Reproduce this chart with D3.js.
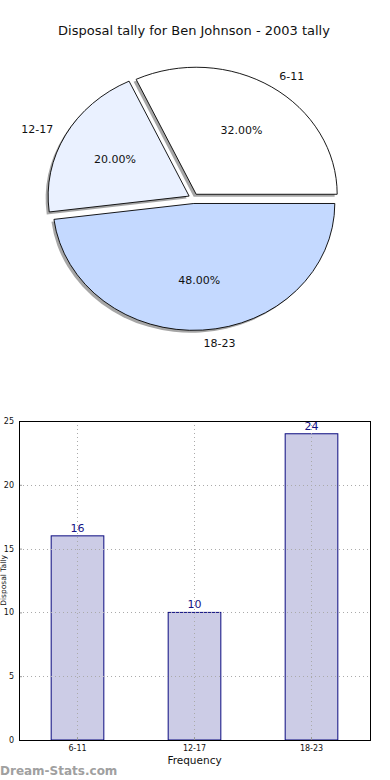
<!DOCTYPE html>
<html>
<head>
<meta charset="utf-8">
<script src="https://cdn.jsdelivr.net/npm/d3@7"></script>
<style>
  body { margin: 0; background: #fff; }
  svg { display: block; font-family: "DejaVu Sans", sans-serif; }
</style>
</head>
<body>
<script>
// data
var categories = ["6-11", "12-17", "18-23"];
var tally = [16, 10, 24];
var sliceColors = ["#ffffff", "#eaf1ff", "#c4d9ff"];
var yTicks = [0, 5, 10, 15, 20, 25];

var svg = d3.select("body").append("svg")
    .attr("width", 390).attr("height", 780);

// title
svg.append("text")
    .attr("x", 194).attr("y", 35)
    .attr("text-anchor", "middle")
    .style("font-size", "13px").style("fill", "#111")
    .text("Disposal tally for Ben Johnson - 2003 tally");

// ---- pie (elliptical, matplotlib style: starts at east, counter-clockwise)
var cx = 193.5, cy = 198.5, rx = 141, ry = 127, explode = 5;
var total = d3.sum(tally);

var pie = d3.pie().sort(null).value(function(d) { return d; })
    .startAngle(Math.PI / 2).endAngle(Math.PI / 2 - 2 * Math.PI);
var arcs = pie(tally);
// d3 angle a -> math angle (from east, ccw) = PI/2 - a
var arc = d3.arc().innerRadius(0).outerRadius(1);

var pg = svg.append("g");

arcs.forEach(function(d, i) {
    var mid = Math.PI / 2 - (d.startAngle + d.endAngle) / 2;
    var ox = cx + explode * Math.cos(mid);
    var oy = cy - explode * Math.sin(mid);
    var tr = "translate(" + ox + "," + oy + ") scale(" + rx + "," + ry + ")";

    // shadow
    pg.append("path")
        .attr("d", arc(d))
        .attr("transform", "translate(-2.5,2.5) " + tr)
        .attr("fill", "#888").attr("opacity", 0.75);
    pg.append("path")
        .attr("d", arc(d))
        .attr("transform", tr)
        .attr("fill", sliceColors[i])
        .attr("stroke", "#000")
        .attr("stroke-width", 0.9)
        .attr("vector-effect", "non-scaling-stroke");

    // outer label (left/right aligned like matplotlib)
    pg.append("text")
        .attr("x", ox + 1.1 * rx * Math.cos(mid))
        .attr("y", oy - 1.1 * ry * Math.sin(mid) + 4)
        .attr("text-anchor", Math.cos(mid) > 0 ? "start" : "end")
        .style("font-size", "11px").style("fill", "#111")
        .text(categories[i]);

    // percentage
    pg.append("text")
        .attr("x", ox + 0.6 * rx * Math.cos(mid))
        .attr("y", oy - 0.6 * ry * Math.sin(mid) + 4)
        .attr("text-anchor", "middle")
        .style("font-size", "11px").style("fill", "#111")
        .text((tally[i] / total * 100).toFixed(2) + "%");
});

// ---- bar chart
var m = {left: 19, top: 421, right: 370, bottom: 740};
var x = d3.scaleBand().domain(categories)
    .range([m.left, m.right]).paddingInner(0.55).paddingOuter(0.275);
var y = d3.scaleLinear().domain([0, 25]).range([m.bottom, m.top]);

var bg = svg.append("g");

bg.selectAll(".bar").data(tally).enter().append("rect")
    .attr("class", "bar")
    .attr("x", function(d, i) { return x(categories[i]); })
    .attr("y", function(d) { return y(d); })
    .attr("width", x.bandwidth())
    .attr("height", function(d) { return y(0) - y(d); })
    .attr("fill", "#ccccE6")
    .attr("stroke", "#0b0b80").attr("stroke-width", 1);

// grid
var grid = bg.append("g").attr("stroke", "#aaa").attr("stroke-dasharray", "1,3")
    .attr("stroke-width", 1);
yTicks.forEach(function(t) {
    grid.append("line").attr("x1", m.left).attr("x2", m.right)
        .attr("y1", Math.round(y(t)) + 0.5).attr("y2", Math.round(y(t)) + 0.5);
});
categories.forEach(function(c) {
    var xc = Math.round(x(c) + x.bandwidth() / 2) + 0.5;
    grid.append("line").attr("x1", xc).attr("x2", xc)
        .attr("y1", m.top).attr("y2", m.bottom);
});

// axes
var yAxis = bg.append("g")
    .attr("transform", "translate(" + m.left + ",0)")
    .call(d3.axisLeft(y).tickValues(yTicks).tickSize(-3).tickPadding(5));
var xAxis = bg.append("g")
    .attr("transform", "translate(0," + m.bottom + ")")
    .call(d3.axisBottom(x).tickSize(-3).tickPadding(5));
[yAxis, xAxis].forEach(function(a) {
    a.select(".domain").remove();
    a.selectAll("text").style("font-size", "8px").style("fill", "#111")
        .style("font-family", "DejaVu Sans, sans-serif");
    a.selectAll("line").attr("stroke", "#999");
});

// frame
bg.append("rect")
    .attr("x", m.left + 0.5).attr("y", m.top + 0.5)
    .attr("width", m.right - m.left).attr("height", m.bottom - m.top)
    .attr("fill", "none").attr("stroke", "#000").attr("stroke-width", 1);

// value labels
bg.selectAll(".val").data(tally).enter().append("text")
    .attr("class", "val")
    .attr("x", function(d, i) { return x(categories[i]) + x.bandwidth() / 2; })
    .attr("y", function(d) { return y(d) - 4; })
    .attr("text-anchor", "middle")
    .style("font-size", "11px").style("fill", "#141485")
    .text(function(d) { return d; });

// axis labels
svg.append("text")
    .attr("x", (m.left + m.right) / 2).attr("y", 764)
    .attr("text-anchor", "middle")
    .style("font-size", "10.5px").style("fill", "#111")
    .text("Frequency");
svg.append("text")
    .attr("transform", "translate(6,580.5) rotate(-90)")
    .attr("text-anchor", "middle")
    .style("font-size", "7.5px").style("fill", "#111")
    .text("Disposal Tally");

// watermark
svg.append("text")
    .attr("x", 0).attr("y", 775)
    .style("font-size", "12px").style("fill", "#a0a0a0").style("font-weight", "600")
    .text("Dream-Stats.com");
</script>
</body>
</html>
